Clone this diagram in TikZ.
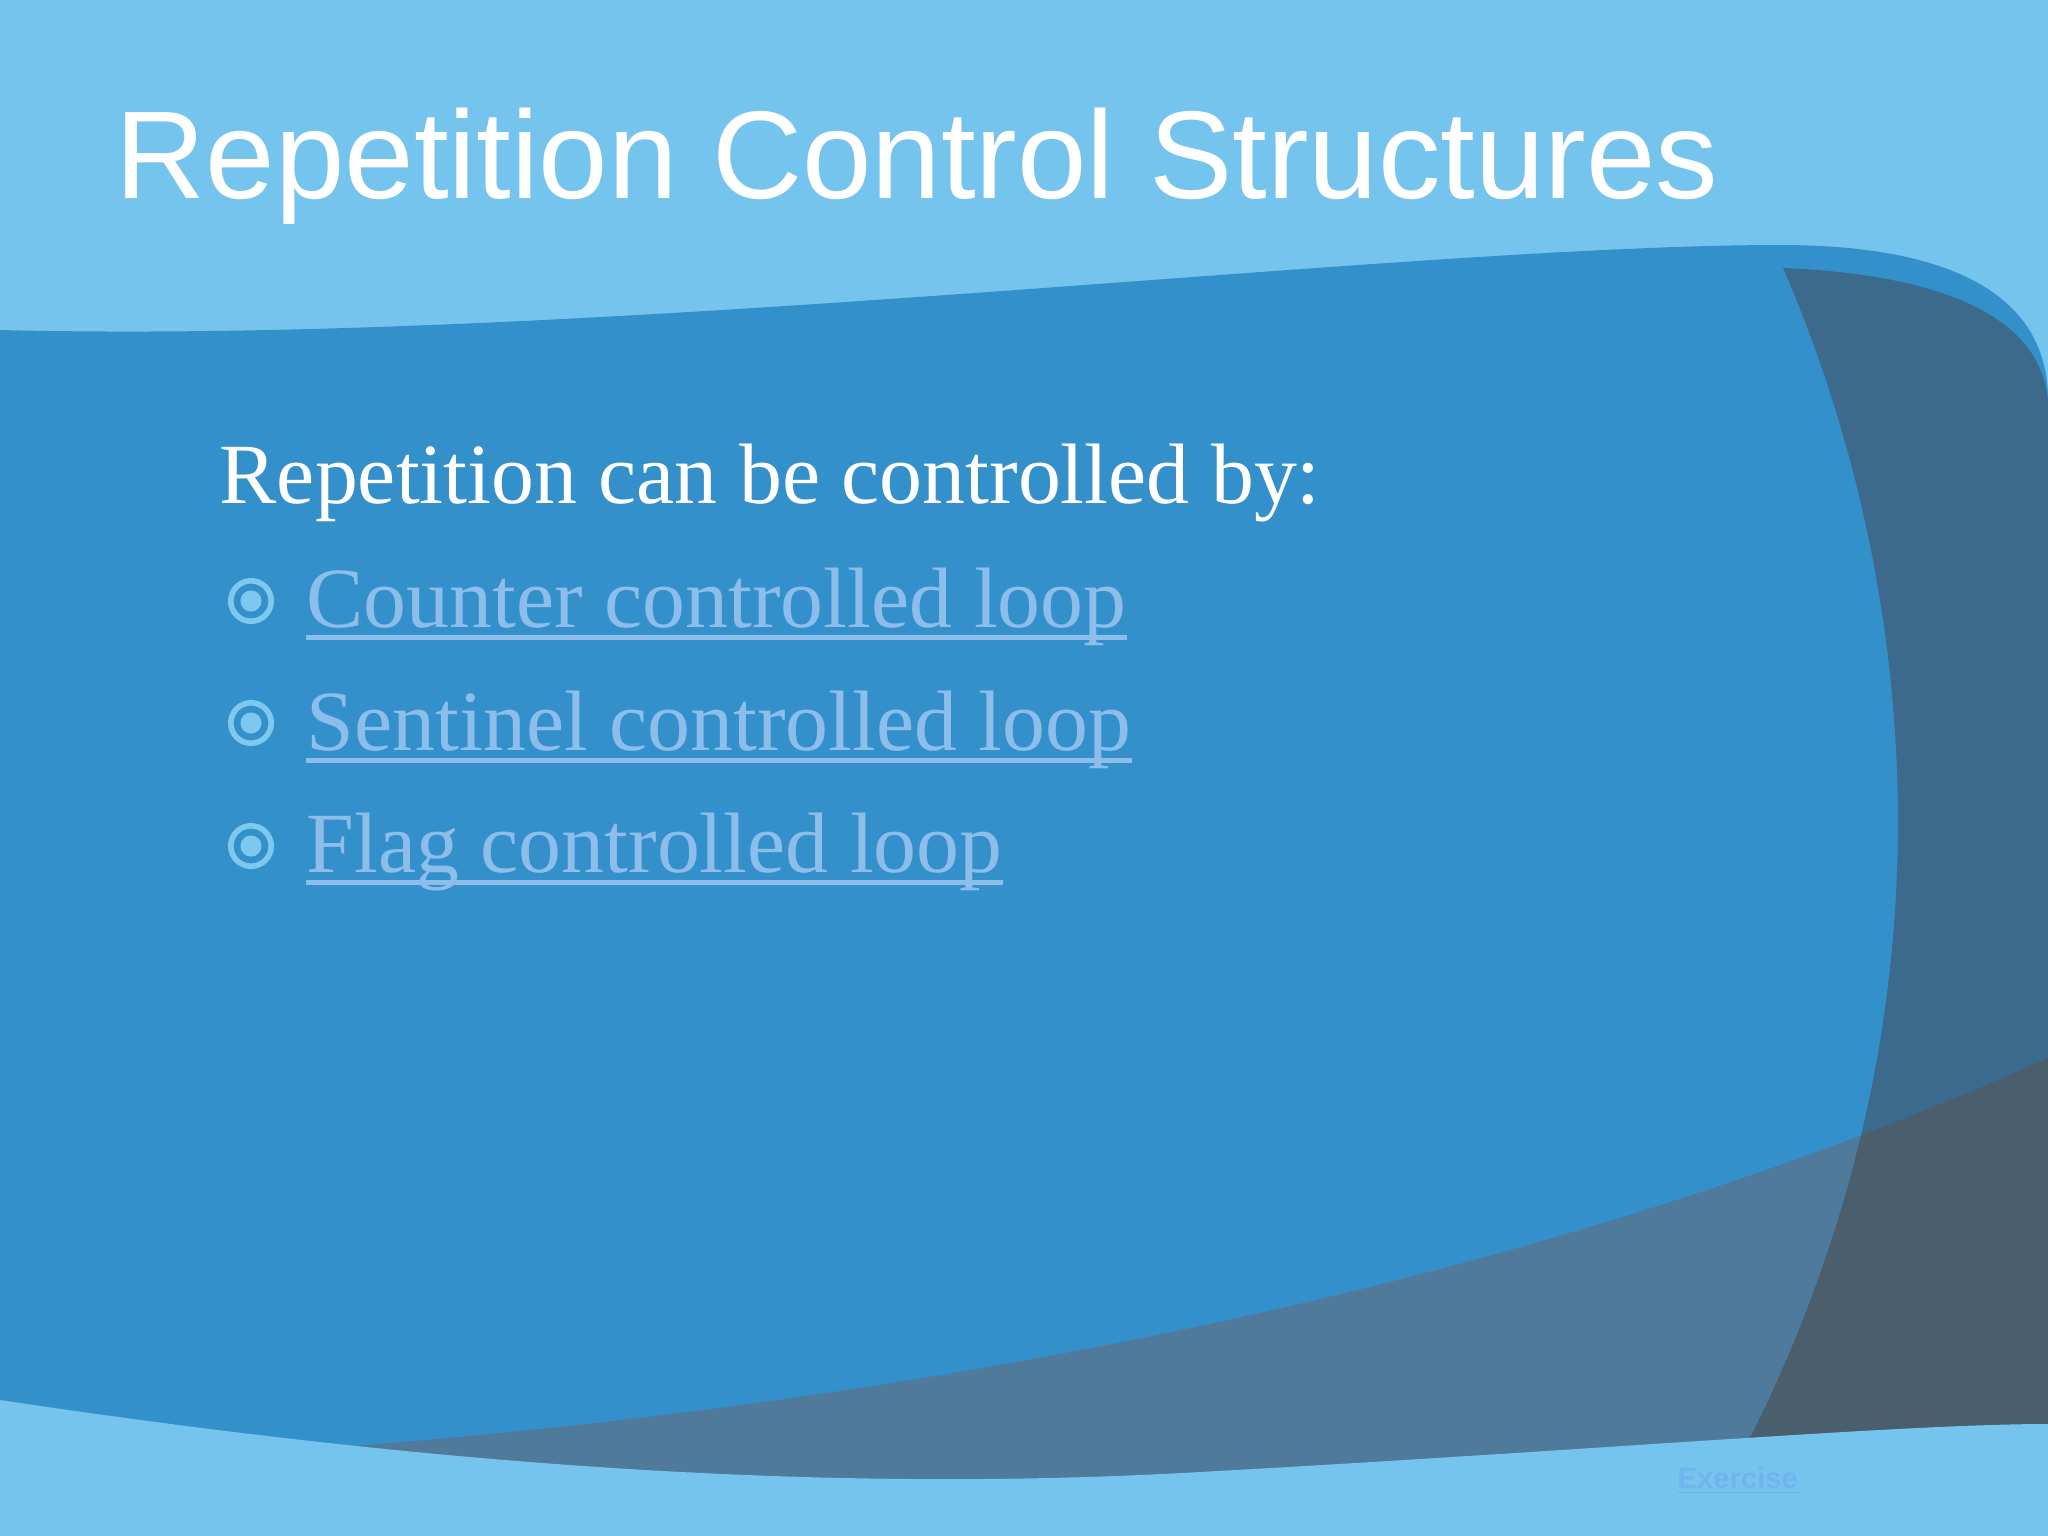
\documentclass[tikz,border=0pt]{standalone}
\usepackage{fontspec}
\setmainfont{Liberation Serif}
\newfontfamily\arialf{Liberation Sans}
\definecolor{lightbg}{HTML}{75C4EE}
\definecolor{mainblue}{HTML}{3490CB}
\definecolor{panel}{HTML}{3C6A8C}
\definecolor{band}{HTML}{4F7A9C}
\definecolor{inter}{HTML}{4A5E6E}
\definecolor{linkc}{HTML}{8DBDEB}
\definecolor{bulletc}{HTML}{7CC8EE}
\definecolor{exc}{HTML}{6DB6EC}
\begin{document}
\begin{tikzpicture}[x=0.01cm,y=-0.01cm,
  bodytxt/.style={anchor=base west,inner sep=0pt,font=\fontsize{24.4}{30}\selectfont},
  linktxt/.style={bodytxt,text=linkc},
  bul/.style={circle,draw=bulletc,line width=1.6pt,minimum size=11.5pt,inner sep=0pt},
  bulin/.style={circle,fill=bulletc,minimum size=6pt,inner sep=0pt}]
\useasboundingbox (0,0) rectangle (2048,1536);
\fill[lightbg] (0,0) rectangle (2048,1536);
\def\mainpath{(0,330) .. controls (600,345) and (1400,245) .. (1780,245) .. controls (1960,245) and (2048,300) .. (2048,400) -- (2048,1536) -- (0,1536) -- cycle}
\def\bandpath{(300,1450) .. controls (1000,1400) and (1600,1260) .. (2048,1058) -- (2048,1536) -- (0,1536) -- cycle}
\def\panelpath{(1783,268) .. controls (1910,560) and (1975,1000) .. (1744,1450) -- (2048,1450) -- (2048,400) .. controls (2040,320) and (1950,275) .. (1783,268) -- cycle}
\fill[mainblue] \mainpath;
\begin{scope}
\clip \mainpath;
\fill[band] \bandpath;
\fill[panel] \panelpath;
\clip \panelpath;
\fill[inter] \bandpath;
\end{scope}
\fill[lightbg] (0,1400) .. controls (400,1460) and (800,1495) .. (1200,1472) .. controls (1600,1450) and (1900,1424) .. (2048,1424) -- (2048,1536) -- (0,1536) -- cycle;
\node[anchor=base west,inner sep=0pt,text=white,font=\arialf\fontsize{35.5}{40}\selectfont] (title) at (115,198) {Repetition Control Structures};
\node[bodytxt,text=white] (intro) at (219,503) {Repetition can be controlled by:};
\node[linktxt] (l1) at (306,627) {Counter controlled loop};
\node[linktxt] (l2) at (306,750) {Sentinel controlled loop};
\node[linktxt] (l3) at (306,872) {Flag controlled loop};
\foreach \n/\y in {1/601,2/723,3/846}{
  \node[bul] (b\n) at (251,\y) {};
  \node[bulin] at (b\n) {};
  \draw[linkc,line width=1.2pt] ([yshift=-3pt]l\n.base west) -- ([yshift=-3pt]l\n.base east);
}
\node[anchor=base west,inner sep=0pt,text=exc,font=\arialf\bfseries\fontsize{8.3}{10}\selectfont] (ex) at (1677,1488) {Exercise};
\draw[exc,line width=0.4pt] ([yshift=-1.2pt]ex.base west) -- ([yshift=-1.2pt]ex.base east);
\end{tikzpicture}
\end{document}
